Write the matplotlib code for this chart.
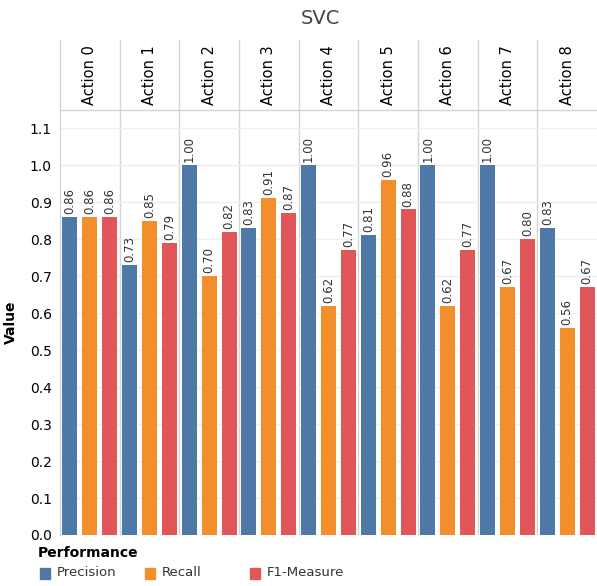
import matplotlib.pyplot as plt
from matplotlib.patches import Rectangle

actions = ["Action 0", "Action 1", "Action 2", "Action 3", "Action 4",
           "Action 5", "Action 6", "Action 7", "Action 8"]
precision = [0.86, 0.73, 1.00, 0.83, 1.00, 0.81, 1.00, 1.00, 0.83]
recall = [0.86, 0.85, 0.70, 0.91, 0.62, 0.96, 0.62, 0.67, 0.56]
f1 = [0.86, 0.79, 0.82, 0.87, 0.77, 0.88, 0.77, 0.80, 0.67]
series = ["Precision", "Recall", "F1-Measure"]
colors = ["#4e79a7", "#f28e2b", "#e15759"]

W, H = 597, 586
fig = plt.figure(figsize=(W / 100, H / 100), dpi=100)
left, right, top, bottom = 60, 597, 110, 535
ax = fig.add_axes([left / W, 1 - bottom / H, (right - left) / W, (bottom - top) / H])

n = len(actions)
for j, (vals, c) in enumerate(zip([precision, recall, f1], colors)):
    xs = [i + (2 * j + 1) / 6 for i in range(n)]
    ax.bar(xs, vals, width=0.25, color=c, zorder=2)
    for x, v in zip(xs, vals):
        ax.text(x, v + 0.008, f"{v:.2f}", rotation=90, ha="center", va="bottom",
                fontsize=8.5, color="#333333", zorder=3)

ax.set_xlim(0, n)
ax.set_ylim(0, 1.149)
ax.set_yticks([i / 10 for i in range(12)])
ax.set_yticklabels([f"{i / 10:.1f}" for i in range(12)], fontsize=10)
ax.set_xticks([])
ax.tick_params(axis="y", length=0, pad=6)
ax.grid(axis="y", color="#efefef", linewidth=1, zorder=0)
for s in ["top", "right", "bottom"]:
    ax.spines[s].set_visible(False)
ax.spines["left"].set_color("#cfcfcf")
ax.set_ylabel("Value", fontsize=10, fontweight="bold", labelpad=8)

# panel separators and header
head_top = 40
for i in range(1, n):
    ax.axvline(i, color="#d4d4d4", linewidth=1, zorder=1)
for i in range(0, n):
    ax.plot([i, i], [1.149, 1.149 + (top - head_top) / 370], color="#d4d4d4",
            linewidth=1, clip_on=False)
ax.plot([0, n], [1.149, 1.149], color="#d4d4d4", linewidth=1, clip_on=False)
for i, a in enumerate(actions):
    ax.text(i + 0.5, 1.149 + (top - 75) / 370, a, rotation=90, ha="center",
            va="center", fontsize=10.5, clip_on=False)

fig.text(320 / W, 1 - 18 / H, "SVC", ha="center", va="center", fontsize=14,
         color="#444444")

# legend
fig.text(38 / W, 1 - 553 / H, "Performance", fontsize=10, fontweight="bold",
         va="center")
for (name, c, lx) in zip(series, colors, [40, 145, 250]):
    fig.patches.append(Rectangle((lx / W, 1 - 579 / H), 10 / W, 11 / H,
                                 color=c, transform=fig.transFigure))
    fig.text((lx + 17) / W, 1 - 573 / H, name, fontsize=9.5, va="center",
             color="#333333")

fig.savefig("out.png", dpi=100)
